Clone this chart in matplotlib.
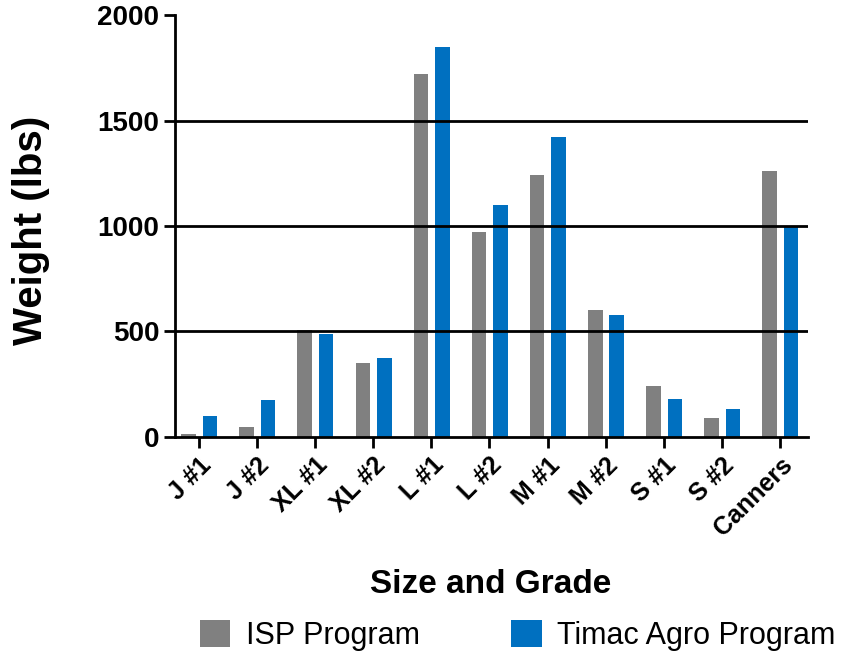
import matplotlib
matplotlib.use("agg")
import matplotlib.pyplot as plt
import numpy as np

plt.rcParams['font.family'] = ['Liberation Sans', 'DejaVu Sans']

grades = ["J #1", "J #2", "XL #1", "XL #2", "L #1", "L #2",
          "M #1", "M #2", "S #1", "S #2", "Canners"]
isp = [15, 45, 505, 350, 1720, 970, 1240, 600, 240, 90, 1260]
timac = [100, 175, 490, 375, 1850, 1100, 1420, 580, 180, 130, 1000]
series = ["ISP Program", "Timac Agro Program"]

fig = plt.figure(figsize=(8.46, 6.57), dpi=100)
ax = fig.add_axes([0.207, 0.335, 0.748, 0.642])

x = np.arange(len(grades))
w = 0.25
ax.bar(x - 0.18, isp, w, color="#808080", label=series[0], zorder=2)
ax.bar(x + 0.19, timac, w, color="#0070C0", label=series[1], zorder=2)

for yv in [500, 1000, 1500]:
    ax.axhline(yv, color="black", lw=2, zorder=3)

ax.set_xlim(-0.41, 10.48)
ax.set_ylim(0, 2000)
ax.set_yticks([0, 500, 1000, 1500, 2000])
ax.set_xticks(x)
ax.set_xticklabels(grades, rotation=45, ha="right", rotation_mode="anchor",
                   fontsize=18, fontweight="bold")
for lab in ax.get_yticklabels():
    lab.set_fontsize(20)
    lab.set_fontweight("bold")

ax.spines["top"].set_visible(False)
ax.spines["right"].set_visible(False)
ax.spines["left"].set_linewidth(2)
ax.spines["bottom"].set_linewidth(2)
ax.spines["bottom"].set_zorder(4)
ax.tick_params(axis="both", width=2, length=8, color="black")

ax.set_ylabel("Weight (lbs)", fontsize=29, fontweight="bold")
ax.yaxis.set_label_coords(-0.197, 0.49)
ax.set_xlabel("Size and Grade", fontsize=24, fontweight="bold")
ax.xaxis.set_label_coords(0.498, -0.313)

fig.legend(loc="center", bbox_to_anchor=(0.612, 0.033), ncol=2,
           frameon=False, fontsize=22, handlelength=1.0, handleheight=1.0,
           handletextpad=0.5, columnspacing=3.0)

fig.savefig("out.png", facecolor="w")
